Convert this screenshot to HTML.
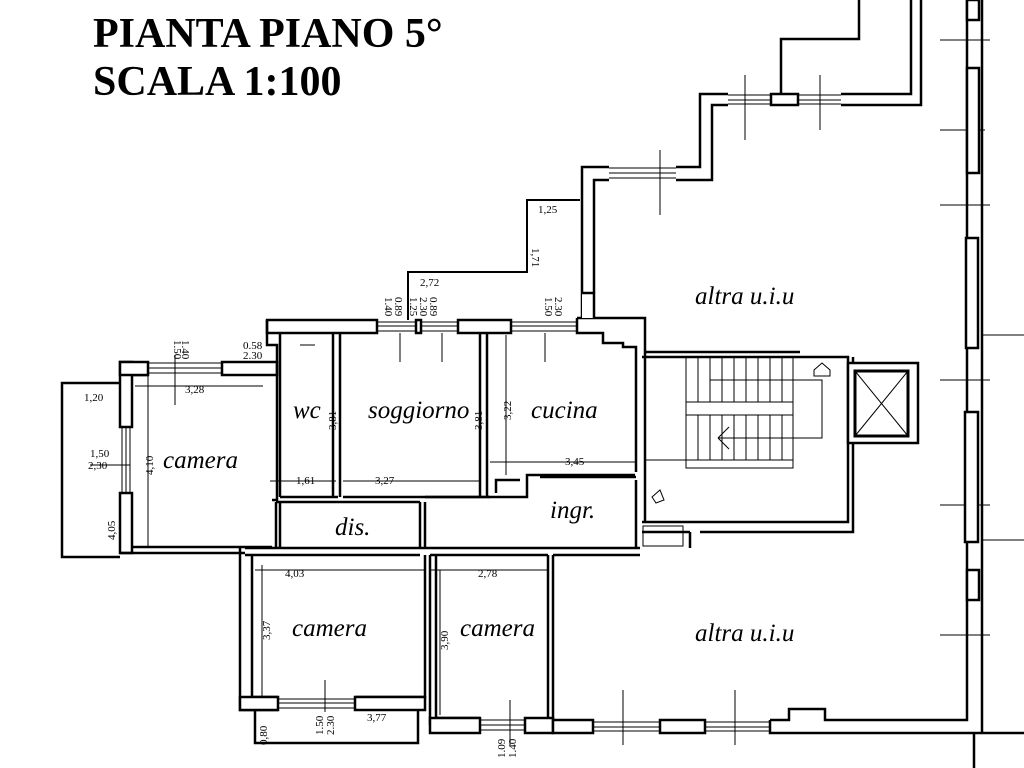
<!DOCTYPE html>
<html><head><meta charset="utf-8"><style>
html,body{margin:0;padding:0;background:#fff;}
svg{display:block;}
.t{font-family:"Liberation Serif",serif;font-style:italic;font-size:25px;fill:#000;}
.d{font-family:"Liberation Serif",serif;font-size:11px;fill:#000;}
</style></head><body>
<svg width="1024" height="768" viewBox="0 0 1024 768" xmlns="http://www.w3.org/2000/svg">
<rect width="1024" height="768" fill="#fff"/>
<text x="93" y="47" font-family="Liberation Serif,serif" font-weight="bold" font-size="42">PIANTA PIANO 5°</text>
<text x="93" y="95" font-family="Liberation Serif,serif" font-weight="bold" font-size="42">SCALA 1:100</text>

<g fill="none" stroke="#000" stroke-width="2.5">
<polyline points="120,383 62,383 62,557 120,557"/>
<rect x="120" y="362" width="12" height="65" fill="#fff"/>
<rect x="120" y="493" width="12" height="60" fill="#fff"/>
<path d="M132,375 H148 M120,553 H245 M132,547 H272"/>
<rect x="120" y="362" width="28" height="13" fill="#fff"/>
<rect x="222" y="362" width="55" height="13" fill="#fff"/>
<path d="M148,363 H222 M148,368 H222 M148,373 H222" stroke-width="1"/>
<path d="M122,427 V493 M126,427 V493 M130,427 V493" stroke-width="1"/>
<rect x="267" y="320" width="110" height="13" fill="#fff"/>
<rect x="416" y="320" width="5" height="13" fill="#fff"/>
<rect x="458" y="320" width="53" height="13" fill="#fff"/>
<path d="M377,322 H416 M377,326 H416 M377,331 H416 M421,322 H458 M421,326 H458 M421,331 H458 M511,322 H577 M511,326 H577 M511,331 H577" stroke-width="1"/>
<path d="M577,318 H645 V360 M577,318 V333 H603 V343 H623 V347 H636 V472"/>
<path d="M267,320 V345 H277 V500 H272"/>
<path d="M280,333 V497 M333,333 V497 M340,333 V497 M480,333 V497 M487,333 V497 H527 V475 H635"/>
<path d="M280,497 H338 M343,497 H485"/>
<path d="M276,502 H420 M276,502 V548 M280,502 V548 M420,502 V548 M425,502 V548"/>
<path d="M425,497 H490 M496,493 V480 H520 M540,477 H636 M636,480 V548"/>
<path d="M245,548 H640 M245,555 H420 M430,555 H548 M553,555 H640"/>
<path d="M240,548 V710 H278 M252,555 V697 H278 M425,555 V697 H355 M430,555 V725"/>
<rect x="240" y="697" width="38" height="13" fill="#fff"/>
<rect x="355" y="697" width="70" height="13" fill="#fff"/>
<path d="M278,699 H355 M278,703 H355 M278,708 H355" stroke-width="1"/>
<polyline points="255,710 255,743 418,743 418,710"/>
<path d="M436,555 V718 H480 M548,555 V733 M553,555 V733"/>
<rect x="430" y="718" width="50" height="15" fill="#fff"/>
<rect x="525" y="718" width="28" height="15" fill="#fff"/>
<path d="M480,720 H525 M480,725 H525 M480,730 H525" stroke-width="1"/>
<rect x="553" y="720" width="40" height="13" fill="#fff"/>
<rect x="660" y="720" width="45" height="13" fill="#fff"/>
<path d="M593,722 H660 M593,727 H660 M593,731 H660 M705,722 H770 M705,727 H770 M705,731 H770" stroke-width="1"/>
<path d="M770,720 V733 H974 M770,720 H789 V709 H825 V720 H967 V0"/>
<path d="M974,733 V768 M974,733 H1024 M982,0 V733"/>
<g stroke-width="1"><path d="M940,40 H990 M940,130 H985 M940,205 H990 M940,380 H990 M940,505 H990 M940,635 H990 M982,335 H1024 M982,540 H1024"/></g>
<rect x="967" y="0" width="12" height="20" fill="#fff"/>
<rect x="967" y="68" width="12" height="105" fill="#fff"/>
<rect x="966" y="238" width="12" height="110" fill="#fff"/>
<rect x="965" y="412" width="13" height="130" fill="#fff"/>
<rect x="967" y="570" width="12" height="30" fill="#fff"/>
<path d="M582,318 V167 H609 M594,293 V180 H609 M676,167 H700 V94 H728 M676,180 H712 V105 H728 M771,94 H798 V105 H771 Z M841,94 H911 V0 M841,105 H921 V0"/>
<path d="M609,168 H676 M609,173 H676 M609,178 H676 M728,95 H771 M728,100 H771 M728,104 H771 M798,95 H841 M798,100 H841 M798,104 H841" stroke-width="1"/>
<path d="M859,0 V39 H781 V94"/>
<rect x="582" y="293" width="12" height="25" fill="#fff" stroke="none"/>
<path d="M582,293 H594 V318"/>
<path d="M580,200 H527 V272 H408 V320" stroke-width="2"/>
<path d="M645,352 H800 M645,360 V522 M642,357 H848 V522 H642 M642,532 H690 M690,532 V548 M853,357 V532 H700"/>
<rect x="848" y="363" width="70" height="80" fill="#fff"/>
<rect x="855" y="371" width="53" height="65" stroke-width="3"/>
<path d="M855,371 L908,436 M908,371 L855,436" stroke-width="1"/>
<g stroke-width="1">
<rect x="686" y="357" width="107" height="111"/>
<rect x="686" y="402" width="107" height="13"/>
<path d="M698,357 V402 M710,357 V402 M722,357 V402 M734,357 V402 M746,357 V402 M758,357 V402 M770,357 V402 M782,357 V402"/>
<path d="M698,415 V460 M710,415 V460 M722,415 V460 M734,415 V460 M746,415 V460 M758,415 V460 M770,415 V460 M782,415 V460 M645,460 H793"/>
<path d="M710,380 H822 V438 H718 M718,438 L729,427 M718,438 L729,449"/>
<path d="M814,370 L822,363 L830,370 V376 H814 Z M652,497 L660,490 L664,500 L656,503 Z"/>
<rect x="643" y="526" width="40" height="20"/>
</g>
<g stroke-width="1">
<path d="M148,375 V547 M135,386 H263 M175,355 V405 M90,465 H130"/>
<path d="M270,481 H336 M333,335 V497 M343,481 H480 M400,333 V362 M442,333 V362 M545,333 V362 M506,335 V475 M490,462 H636"/>
<path d="M255,570 H425 M262,565 V697 M430,570 H548 M440,570 V715 M325,680 V712 M510,700 V745 M300,345 H315"/>
<path d="M623,690 V745 M735,690 V745 M660,150 V215 M745,75 V140 M820,75 V130"/>
</g>
</g>

<text class="t" x="163" y="468">camera</text>
<text class="t" x="293" y="418">wc</text>
<text class="t" x="368" y="418">soggiorno</text>
<text class="t" x="531" y="418">cucina</text>
<text class="t" x="335" y="535">dis.</text>
<text class="t" x="550" y="518">ingr.</text>
<text class="t" x="292" y="636">camera</text>
<text class="t" x="460" y="636">camera</text>
<text class="t" x="695" y="304">altra u.i.u</text>
<text class="t" x="695" y="641">altra u.i.u</text>

<g class="d">
<text x="84" y="401">1,20</text>
<text x="90" y="457">1,50</text><text x="88" y="469">2,30</text>
<text transform="translate(115,540) rotate(-90)">4,05</text>
<text x="185" y="393">3,28</text>
<text transform="translate(153,475) rotate(-90)">4,10</text>
<text x="243" y="349">0.58</text><text x="243" y="359">2.30</text>
<text transform="translate(174,340) rotate(90)">1.50</text>
<text transform="translate(182,340) rotate(90)">1.40</text>
<text x="296" y="484">1,61</text>
<text x="375" y="484">3,27</text>
<text transform="translate(336,430) rotate(-90)">3,81</text>
<text transform="translate(482,430) rotate(-90)">3,81</text>
<text transform="translate(511,420) rotate(-90)">3,22</text>
<text x="565" y="465">3,45</text>
<text x="285" y="577">4,03</text>
<text x="478" y="577">2,78</text>
<text transform="translate(270,640) rotate(-90)">3,37</text>
<text transform="translate(448,650) rotate(-90)">3,90</text>
<text x="367" y="721">3,77</text>
<text transform="translate(267,745) rotate(-90)">0,80</text>
<text transform="translate(323,735) rotate(-90)">1.50</text>
<text transform="translate(334,735) rotate(-90)">2.30</text>
<text transform="translate(505,758) rotate(-90)">1.09</text>
<text transform="translate(516,758) rotate(-90)">1.40</text>
<text x="538" y="213">1,25</text>
<text transform="translate(532,248) rotate(90)">1,71</text>
<text x="420" y="286">2,72</text>
<text transform="translate(385,297) rotate(90)">1.40</text>
<text transform="translate(395,297) rotate(90)">0.89</text>
<text transform="translate(410,297) rotate(90)">1.25</text>
<text transform="translate(420,297) rotate(90)">2.30</text>
<text transform="translate(430,297) rotate(90)">0.89</text>
<text transform="translate(545,297) rotate(90)">1.50</text>
<text transform="translate(555,297) rotate(90)">2.30</text>
</g>
</svg>
</body></html>
